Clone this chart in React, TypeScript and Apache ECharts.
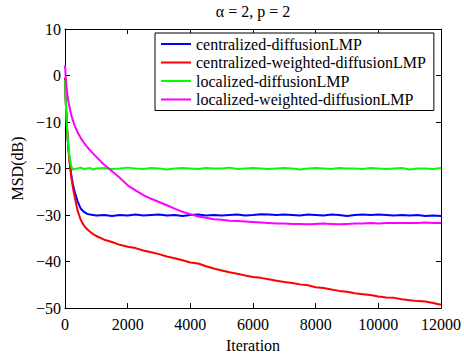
import React, { useEffect, useRef } from "react";
import * as echarts from "echarts";

const titleText = "α = 2, p = 2";
const xName = "Iteration";
const yName = "MSD(dB)";
const seriesNames = [
  "centralized-diffusionLMP",
  "centralized-weighted-diffusionLMP",
  "localized-diffusionLMP",
  "localized-weighted-diffusionLMP",
];
const seriesColors = ["#0000ff", "#ff0000", "#00ff00", "#ff00ff"];

const iterations = [
  0, 25, 50, 75, 100, 150, 200, 250, 300, 400, 500, 600, 700, 800, 900, 1000,
  1250, 1500, 1750, 2000, 2250, 2500, 2750, 3000, 3250, 3500, 3750, 4000, 4250,
  4500, 4750, 5000, 5250, 5500, 5750, 6000, 6250, 6500, 6750, 7000, 7250, 7500,
  7750, 8000, 8250, 8500, 8750, 9000, 9250, 9500, 9750, 10000, 10250, 10500,
  10750, 11000, 11250, 11500, 11750, 12000,
];

const centralizedDiffusion = [
  -0.5, -5.5, -9.5, -12.5, -15, -18.5, -21.3, -23.3, -24.8, -27, -28.6, -29.3,
  -29.7, -29.9, -30.0, -30.1, -30.0, -30.2, -30.0, -30.1, -29.9, -30.1, -30.0,
  -29.9, -30.1, -30.0, -30.2, -30.0, -29.9, -30.1, -30.0, -30.1, -30.0, -29.9,
  -30.1, -30.0, -29.8, -29.9, -30.0, -29.9, -30.0, -30.1, -29.9, -30.0, -30.1,
  -29.9, -30.0, -30.2, -30.0, -29.9, -30.0, -29.9, -30.0, -30.1, -30.0, -30.1,
  -30.0, -30.2, -30.1, -30.2,
];

const centralizedWeighted = [
  -0.5, -5.5, -9.5, -12.5, -15, -18.8, -21.8, -24.0, -25.8, -29.0, -31.0, -32.2,
  -33.0, -33.6, -34.1, -34.5, -35.3, -35.8, -36.4, -36.8, -37.1, -37.6, -38.0,
  -38.4, -38.9, -39.3, -39.7, -40.2, -40.4, -41.0, -41.5, -41.9, -42.3, -42.6,
  -43.0, -43.3, -43.5, -43.8, -44.1, -44.4, -44.6, -44.9, -45.1, -45.5, -45.7,
  -46.0, -46.3, -46.5, -46.8, -47.0, -47.2, -47.5, -47.7, -47.8, -48.1, -48.3,
  -48.5, -48.6, -48.9, -49.3,
];

const localizedDiffusion = [
  -1, -5.5, -9.5, -12.5, -14.5, -17.8, -19.5, -20.2, -20.1, -20.0, -19.8,
  -20.1, -20.0, -19.9, -20.2, -20.0, -19.9, -20.1, -20.0, -19.8, -20.0, -20.1,
  -19.9, -20.0, -20.2, -20.0, -19.9, -20.0, -20.1, -19.9, -20.0, -20.0, -19.8,
  -20.1, -20.0, -19.9, -20.0, -20.1, -20.0, -19.9, -20.0, -20.2, -20.0, -19.9,
  -20.0, -20.1, -19.9, -20.0, -20.0, -20.1, -19.9, -20.0, -20.1, -20.0, -19.9,
  -20.2, -20.0, -20.0, -20.1, -19.9,
];

const localizedWeighted = [
  2.2, -0.5, -2.5, -4.0, -5.3, -7.0, -8.5, -9.6, -10.6, -12.2, -13.4, -14.4,
  -15.3, -16.1, -16.8, -17.5, -19.2, -20.6, -22.0, -23.6, -24.7, -25.7, -26.5,
  -27.2, -27.9, -28.6, -29.3, -29.8, -30.3, -30.6, -30.9, -31.0, -31.2, -31.3,
  -31.4, -31.5, -31.6, -31.7, -31.8, -31.8, -31.9, -31.9, -32.0, -31.9, -31.8,
  -31.9, -32.0, -31.9, -31.8, -31.8, -31.7, -31.8, -31.7, -31.7, -31.7, -31.7,
  -31.7, -31.6, -31.7, -31.7,
];

const seriesValues = [
  centralizedDiffusion,
  centralizedWeighted,
  localizedDiffusion,
  localizedWeighted,
];

const FONT = "'Liberation Serif', 'Times New Roman', serif";
const FS = 16;

export default function App() {
  const ref = useRef<HTMLDivElement>(null);
  useEffect(() => {
    if (!ref.current) return;
    const chart = echarts.init(ref.current, undefined, { renderer: "svg" });
    const fmtNum = (v: number) => (v < 0 ? "\u2212" + Math.abs(v) : String(v));
    const axisCommon = {
      axisLine: { show: true, onZero: false, lineStyle: { color: "#000", width: 1 } },
      axisTick: { show: true, inside: true, length: 5, lineStyle: { color: "#000" } },
      splitLine: { show: false },
    };
    chart.setOption({
      animation: false,
      backgroundColor: "#fff",
      textStyle: { fontFamily: FONT },
      title: {
        text: titleText,
        left: 253,
        textAlign: "center",
        top: 3,
        padding: 0,
        textStyle: { fontFamily: FONT, fontSize: FS, fontWeight: "normal", color: "#000" },
      },
      legend: {
        orient: "vertical",
        left: 155,
        top: 33,
        data: seriesNames,
        icon: "rect",
        itemWidth: 30,
        itemHeight: 2,
        itemGap: 2.5,
        padding: [3, 8, 3, 6],
        backgroundColor: "#fff",
        borderColor: "#000",
        borderWidth: 1,
        borderRadius: 0,
        textStyle: { fontFamily: FONT, fontSize: FS, color: "#000", lineHeight: 16 },
      },
      grid: { left: 65, right: 23, top: 29, bottom: 40, containLabel: false },
      xAxis: [
        {
          type: "value",
          min: 0,
          max: 12000,
          interval: 2000,
          name: xName,
          nameLocation: "middle",
          nameGap: 21,
          nameTextStyle: { fontFamily: FONT, fontSize: FS, color: "#000", verticalAlign: "top" },
          axisLabel: { fontFamily: FONT, fontSize: FS, color: "#000", margin: 8, formatter: fmtNum },
          ...axisCommon,
        },
        {
          type: "value",
          position: "top",
          min: 0,
          max: 12000,
          interval: 2000,
          axisLabel: { show: false },
          ...axisCommon,
        },
      ],
      yAxis: [
        {
          type: "value",
          min: -50,
          max: 10,
          interval: 10,
          name: yName,
          nameLocation: "middle",
          nameGap: 31,
          nameTextStyle: { fontFamily: FONT, fontSize: FS, color: "#000" },
          axisLabel: { fontFamily: FONT, fontSize: FS, color: "#000", margin: 4, formatter: fmtNum },
          ...axisCommon,
        },
        {
          type: "value",
          position: "right",
          min: -50,
          max: 10,
          interval: 10,
          axisLabel: { show: false },
          ...axisCommon,
        },
      ],
      series: seriesNames.map((name, i) => ({
        name,
        type: "line",
        xAxisIndex: 0,
        yAxisIndex: 0,
        symbol: "none",
        showSymbol: false,
        smooth: false,
        color: seriesColors[i],
        itemStyle: { color: seriesColors[i] },
        lineStyle: { color: seriesColors[i], width: 2 },
        data: iterations.map((x, j) => [x, seriesValues[i][j]]),
      })),
    });
    return () => chart.dispose();
  }, []);
  return <div ref={ref} style={{ width: 464, height: 358, position: "absolute", left: 0, top: 0 }} />;
}
